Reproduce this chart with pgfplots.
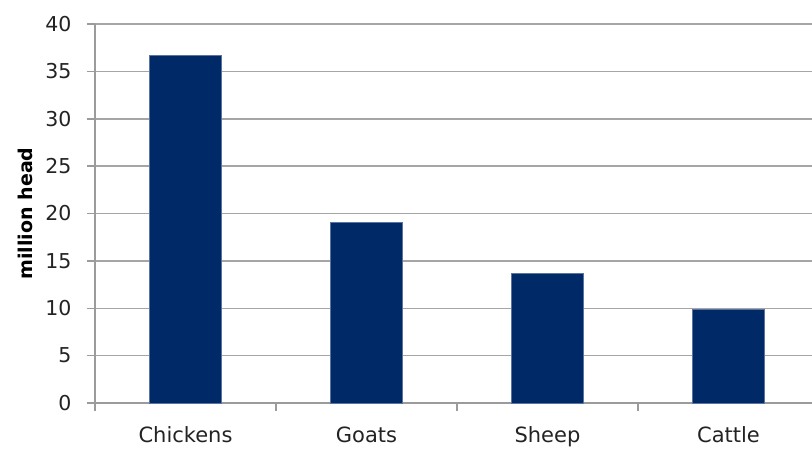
\documentclass[border=0pt]{standalone}
\usepackage{fontspec}
\setmainfont{DejaVu Sans}
\usepackage{pgfplots}
\pgfplotsset{compat=1.18}
\definecolor{barblue}{RGB}{0,41,104}
\definecolor{baredge}{RGB}{90,115,160}
\definecolor{gridgray}{RGB}{165,165,165}
\definecolor{axisgray}{RGB}{155,155,155}
\definecolor{txt}{RGB}{35,35,35}
\begin{document}
\begin{tikzpicture}
\begin{axis}[
  at={(95pt,45pt)}, anchor=south west,
  scale only axis, width=724pt, height=379pt,
  xmin=-0.5, xmax=3.5, ymin=0, ymax=40,
  axis x line=bottom, axis y line=left,
  axis line style={draw=axisgray, line width=1.5pt, -},
  ytick={0,5,...,40},
  xtick={0,1,2,3},
  xticklabels={Chickens,Goats,Sheep,Cattle},
  minor xtick={-0.5,0.5,1.5,2.5,3.5},
  tick align=outside,
  major tick length=8pt, minor tick length=8pt,
  major x tick style={draw=none},
  minor x tick style={draw=axisgray, line width=1.5pt},
  ytick style={draw=axisgray, line width=1.5pt},
  ymajorgrids, grid style={draw=gridgray, line width=1.5pt},
  /pgf/number format/assume math mode=true,
  ticklabel style={text=txt},
  yticklabel style={font=\fontsize{20.5}{24}\selectfont, xshift=-12pt},
  xticklabel style={font=\fontsize{21}{25}\selectfont, yshift=-12pt},
  ylabel={million head},
  ylabel style={font=\fontsize{19}{22}\selectfont\bfseries, text=black,
    at={(axis description cs:-0.0967,0.5)}, anchor=center},
  ybar, bar width=72pt,
]
\addplot[fill=barblue, draw=baredge, line width=0.6pt] coordinates {(0,36.7) (1,19.1) (2,13.7) (3,9.9)};
\end{axis}
\pgfresetboundingbox
\path[use as bounding box] (0,0) rectangle (812pt,448pt);
\end{tikzpicture}
\end{document}
